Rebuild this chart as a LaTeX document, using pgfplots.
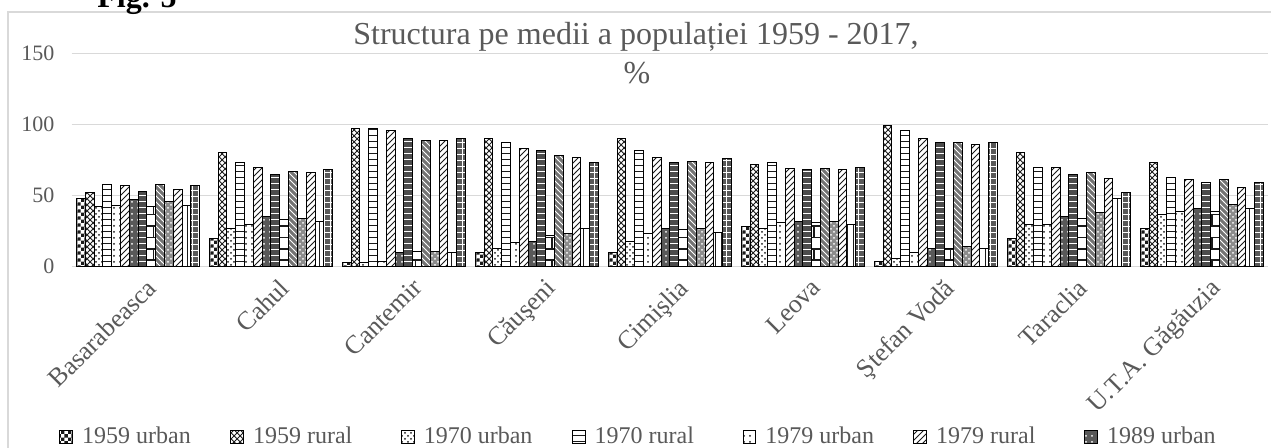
\documentclass[border=0pt]{standalone}
\usepackage{fontspec}
\setmainfont{Liberation Serif}
\usepackage{pgfplots}
\usepackage{pgfplotstable}
\pgfplotsset{compat=1.18}
\usetikzlibrary{patterns}
\definecolor{txt}{HTML}{595959}
\definecolor{gridc}{HTML}{D9D9D9}
\definecolor{pat}{HTML}{1A1A1A}

\pgfdeclarepatternformonly{finechecker}{\pgfpointorigin}{\pgfqpoint{3.4pt}{3.4pt}}{\pgfqpoint{3.4pt}{3.4pt}}{%
  \pgfpathrectangle{\pgfpointorigin}{\pgfqpoint{1.7pt}{1.7pt}}%
  \pgfpathrectangle{\pgfqpoint{1.7pt}{1.7pt}}{\pgfqpoint{1.7pt}{1.7pt}}%
  \pgfusepath{fill}}

\pgfplotstableread{
x u1959 r1959 u1970 r1970 u1979 r1979 u1989 r1989 u2004 r2004 u2014 r2014 u2017 r2017
0 48 52 42 58 43 57 47 53 42 58 46 54 43 57
1 20 80 27 73 30 70 35 65 33 67 34 66 32 68
2 3 97 3 97 4 96 10 90 11 89 11 89 10 90
3 10 90 13 87 17 83 18 82 22 78 23 77 27 73
4 10 90 18 82 23 77 27 73 26 74 27 73 24 76
5 28 72 27 73 31 69 32 68 31 69 32 68 30 70
6 4 99 6 96 10 90 13 87 13 87 14 86 13 87
7 20 80 30 70 30 70 35 65 34 66 38 62 48 52
8 27 73 37 63 39 61 41 59 39 61 44 56 41 59
}\data

\pgfplotsset{
  leg/.style={/pgfplots/legend image code/.code={\draw[##1] (0pt,-3.2pt) rectangle (6.4pt,3.2pt);}},
  pw/.style={fill=white, postaction={pattern=#1, pattern color=pat}, leg},
  pd/.style 2 args={fill=black!#2, postaction={pattern=#1, pattern color=white}, leg},
}
\newcommand{\lt}[1]{\hspace{3.5pt}\makebox[73pt][l]{#1}}

\begin{document}
\begin{tikzpicture}
\path[use as bounding box] (0,0) rectangle (635.5pt,-224pt);
\draw[gridc, line width=0.6pt] (4pt,-6pt) rectangle (700pt,-300pt);
\node[anchor=base west, inner sep=0pt, font=\fontsize{16}{18}\selectfont\bfseries] at (48.5pt,-4pt) {Fig. 5};
\node[anchor=base, inner sep=0pt, text=txt, font=\fontsize{16}{18}\selectfont] at (318pt,-22.5pt) {Structura pe medii a populației 1959 - 2017,};
\node[anchor=base, inner sep=0pt, text=txt, font=\fontsize{16}{18}\selectfont] at (318.5pt,-42pt) {\%};
\begin{axis}[
  at={(35.75pt,-133.35pt)}, anchor=south west,
  scale only axis, width=598.5pt, height=106.7pt,
  xmin=-0.5, xmax=8.5, ymin=0, ymax=150,
  ybar=0pt, bar width=4.4pt,
  ytick={0,50,100,150},
  ymajorgrids, grid style={gridc, line width=0.6pt},
  axis line style={draw=none}, major tick length=0pt,
  xtick={0,...,8},
  xticklabels={Basarabeasca, Cahul, Cantemir, Căuşeni, Cimişlia, Leova, Ştefan Vodă, Taraclia, U.T.A. Găgăuzia},
  xticklabel style={rotate=45, anchor=north east, font=\fontsize{13}{15}\selectfont, text=txt, inner sep=1pt, yshift=-5pt},
  yticklabel style={font=\fontsize{11}{13}\selectfont, text=txt, xshift=-5pt},
  /pgf/number format/assume math mode=true,
  every axis plot/.append style={draw=black, line width=0.5pt},
  legend columns=7,
  legend style={at={(-0.0104,-0.798)}, anchor=west, draw=none, fill=none,
    inner sep=0pt, column sep=0pt, font=\fontsize{12}{14}\selectfont, text=txt,
    nodes={inner sep=1pt}},
]
\addplot[pw=finechecker] table[x=x, y=u1959] {\data};
\addplot[pw=crosshatch] table[x=x, y=r1959] {\data};
\addplot[pw=crosshatch dots] table[x=x, y=u1970] {\data};
\addplot[pw=horizontal lines] table[x=x, y=r1970] {\data};
\addplot[pw=dots] table[x=x, y=u1979] {\data};
\addplot[pw=north east lines] table[x=x, y=r1979] {\data};
\addplot[pd={dots}{65}] table[x=x, y=u1989] {\data};
\addplot[pd={horizontal lines}{70}] table[x=x, y=r1989] {\data};
\addplot[pw=bricks] table[x=x, y=u2004] {\data};
\addplot[pd={north west lines}{55}] table[x=x, y=r2004] {\data};
\addplot[pd={crosshatch dots}{45}] table[x=x, y=u2014] {\data};
\addplot[pw=north east lines] table[x=x, y=r2014] {\data};
\addplot[pw=vertical lines] table[x=x, y=u2017] {\data};
\addplot[pd={grid}{65}] table[x=x, y=r2017] {\data};
\legend{\lt{1959 urban}, \lt{1959 rural}, \lt{1970 urban}, \lt{1970 rural}, \lt{1979 urban}, \lt{1979 rural}, \lt{1989 urban}}
\end{axis}
\end{tikzpicture}
\end{document}
